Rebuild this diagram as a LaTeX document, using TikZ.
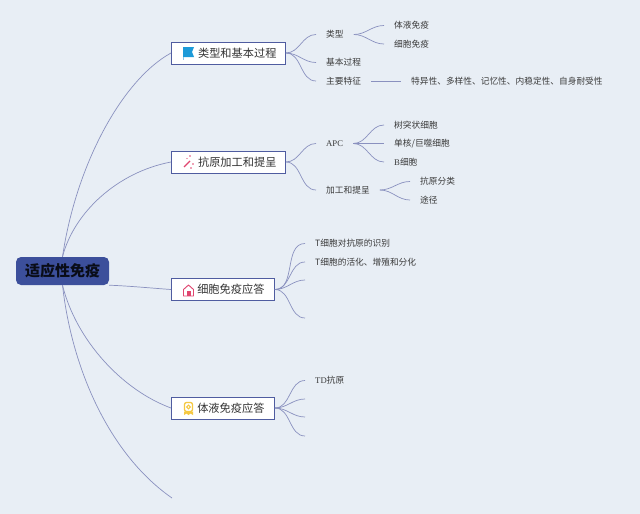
\documentclass[tikz,border=0pt]{standalone}
\usepackage{fontspec}
\setmainfont{Liberation Serif}
\newfontfamily\cjk{Noto Sans CJK SC}
\usetikzlibrary{positioning,calc}
\definecolor{bgcol}{HTML}{E8EEF5}
\definecolor{linecol}{HTML}{8A91BF}
\definecolor{rootcol}{HTML}{3C4F9B}
\definecolor{boxcol}{HTML}{4F5CA0}
\definecolor{textcol}{HTML}{3A3A3A}
\definecolor{iconblue}{HTML}{1C9AD8}
\definecolor{iconpink}{HTML}{E0456F}
\definecolor{iconyellow}{HTML}{F5C842}
\tikzset{
	root/.style={fill=rootcol, rounded corners=5pt, minimum width=93pt, minimum height=28pt, inner sep=0pt, font=\cjk\bfseries\fontsize{15}{15}\selectfont, text=black!85!rootcol},
	topic/.style={draw=boxcol, fill=white, line width=0.9pt, anchor=west, minimum height=22pt, inner xsep=0pt, inner ysep=0pt, text=black!80, font=\cjk\fontsize{11.2}{12}\selectfont, align=right},
	leaf/.style={anchor=west, inner xsep=10pt, inner ysep=1pt, text=textcol, font=\cjk\fontsize{8.7}{10}\selectfont},
	branch/.style={draw=linecol, line width=0.7pt},
}
\begin{document}
\begin{tikzpicture}[x=1pt, y=-1pt]
	\fill[bgcol] (0,0) rectangle (640,514);
	\useasboundingbox (0,0) rectangle (640,514);

	\node[root] (adaptive) at (62.5, 271) {适应性免疫};

	\node[topic, minimum width=114pt, text width=96pt] (process) at (171, 53) {类型和基本过程};
	\node[topic, minimum width=114pt, text width=96pt] (antigen) at (171, 162) {抗原加工和提呈};
	\node[topic, minimum width=103pt, text width=83pt] (cellular) at (171, 289.5) {细胞免疫应答};
	\node[topic, minimum width=103pt, text width=83pt] (humoral) at (171, 408) {体液免疫应答};
	\coordinate (fifth) at (172, 498);

	\node[leaf] (kind) at (316, 34.5) {类型};
	\node[leaf] (basic) at (316, 62.5) {基本过程};
	\node[leaf] (feature) at (316, 81) {主要特征};
	\node[leaf] (fluid) at (384, 25.5) {体液免疫};
	\node[leaf] (cell) at (384, 44) {细胞免疫};
	\node[leaf] (traits) at (401, 81) {特异性、多样性、记忆性、内稳定性、自身耐受性};

	\node[leaf] (apc) at (316, 143.5) {\rmfamily APC};
	\node[leaf] (present) at (316, 190) {加工和提呈};
	\node[leaf] (dendritic) at (384, 125) {树突状细胞};
	\node[leaf] (mono) at (384, 143.5) {单核/巨噬细胞};
	\node[leaf] (bcell) at (384, 162) {{\rmfamily B}细胞};
	\node[leaf] (classify) at (410, 181.5) {抗原分类};
	\node[leaf] (route) at (410, 200) {途径};

	\node[leaf] (recog) at (305, 243.5) {T细胞对抗原的识别};
	\node[leaf] (activ) at (305, 262) {T细胞的活化、增殖和分化};
	\coordinate (cella) at (305, 280);
	\coordinate (cellb) at (305, 318);

	\node[leaf] (td) at (305, 380.5) {{\rmfamily TD}抗原};
	\coordinate (huma) at (305, 399);
	\coordinate (humb) at (305, 417);
	\coordinate (humc) at (305, 436);

	% main branches
	\draw[branch] (adaptive.north) .. controls (76, 165) and (122, 80) .. (process.west);
	\draw[branch] (adaptive.north) .. controls (74, 212) and (118, 172) .. (antigen.west);
	\draw[branch] (adaptive.south east) .. controls (130, 286) and (150, 288) .. (cellular.west);
	\draw[branch] (adaptive.south) .. controls (76, 340) and (122, 390) .. (humoral.west);
	\draw[branch] (adaptive.south) .. controls (72, 370) and (110, 455) .. (fifth);

	% sub branches
	\foreach \a/\b in {process/kind, process/basic, process/feature, kind/fluid, kind/cell,
		antigen/apc, antigen/present, apc/dendritic, apc/mono, apc/bcell, present/classify, present/route,
		cellular/recog, cellular/activ, humoral/td}
		\draw[branch] (\a.east) to[out=0, in=180] (\b.west);
	\foreach \a/\b in {cellular/cella, cellular/cellb, humoral/huma, humoral/humb, humoral/humc}
		\draw[branch] (\a.east) to[out=0, in=180] (\b);
	\draw[branch, line width=0.9pt] (feature.east) -- (traits.west);

	% icons
	\fill[iconblue] (183, 47) -- (194, 47) -- (192, 52) -- (194, 57) -- (183, 57) -- cycle;
	\fill[iconblue!45!bgcol] (183, 57) rectangle (184, 59.5);
	\draw[iconpink, line width=0.9pt, line join=round] (183.5, 296) -- (183.5, 289.5) -- (188.5, 285) -- (193.5, 289.5) -- (193.5, 296) -- cycle;
	\fill[iconpink] (186.5, 291) rectangle (190.5, 296);
	\draw[iconpink, line width=1.1pt] (184, 167) -- (190, 161);
	\fill[iconpink] (190, 156) circle (0.9) (193, 164) circle (0.9) (187, 158.5) circle (0.7) (191, 168) circle (0.8);
	\draw[iconyellow, line width=1.3pt, rounded corners=2pt] (184.5, 402.5) rectangle (192.5, 411.5);
	\draw[iconyellow, line width=1pt] (188.5, 407) circle (1.8);
	\fill[iconyellow] (184, 411.5) -- (193, 411.5) -- (193, 415) -- (190.5, 413.5) -- (188.5, 415) -- (186.5, 413.5) -- (184, 415) -- cycle;
\end{tikzpicture}
\end{document}
